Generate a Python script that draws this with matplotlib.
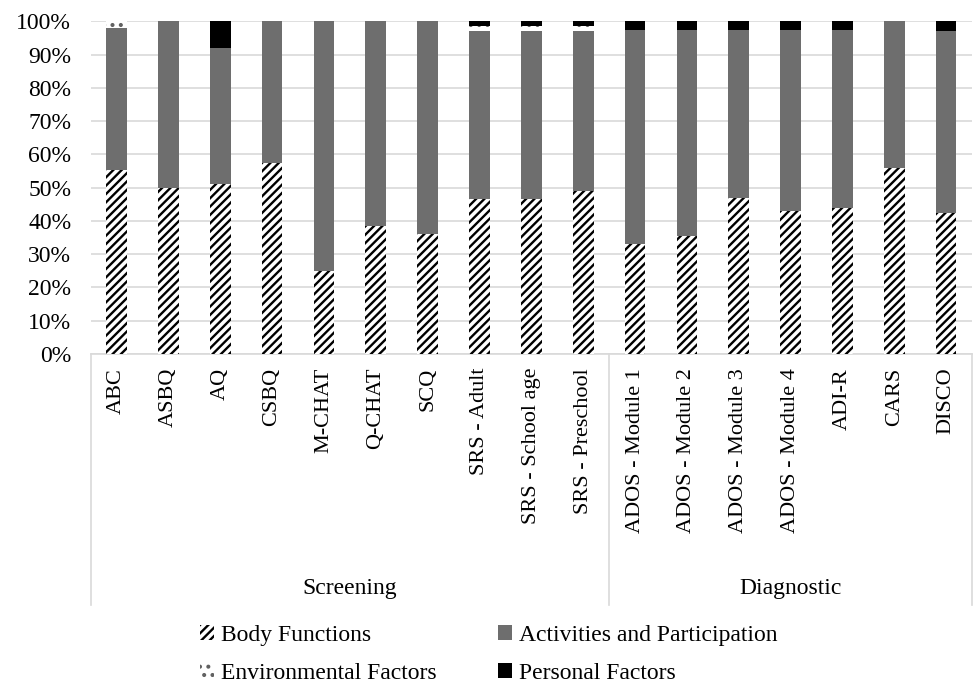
import matplotlib
matplotlib.use('Agg')
import matplotlib.pyplot as plt
import matplotlib.transforms as mtransforms
from matplotlib.patches import Patch
import numpy as np

plt.rcParams['font.family'] = ['Liberation Serif', 'DejaVu Serif']
plt.rcParams['hatch.linewidth'] = 1.7

# data (percent)
tools = ['ABC', 'ASBQ', 'AQ', 'CSBQ', 'M-CHAT', 'Q-CHAT', 'SCQ',
         'SRS - Adult', 'SRS - School age', 'SRS - Preschool',
         'ADOS - Module 1', 'ADOS - Module 2', 'ADOS - Module 3', 'ADOS - Module 4',
         'ADI-R', 'CARS', 'DISCO']
groups = ['Screening', 'Diagnostic']
group_sizes = [10, 7]
body = [55.3, 50.0, 51.0, 57.5, 25.0, 38.5, 36.0, 46.5, 46.5, 49.0,
        33.0, 35.5, 47.0, 43.0, 44.0, 56.0, 42.5]
activities = [42.7, 50.0, 41.0, 42.5, 75.0, 61.5, 64.0, 50.5, 50.5, 48.0,
              64.3, 61.8, 50.3, 54.4, 53.5, 44.0, 54.7]
environmental = [2.0, 0, 0, 0, 0, 0, 0, 1.5, 1.5, 1.5,
                 0, 0, 0, 0, 0, 0, 0]
personal = [0, 0, 8.0, 0, 0, 0, 0, 1.5, 1.5, 1.5,
            2.7, 2.7, 2.7, 2.6, 2.5, 0, 2.8]

FS = 17      # horizontal text
FS_ROT = 16  # rotated category labels
grey = '#6e6e6e'
light = '#d9d9d9'

fig = plt.figure(figsize=(9.74, 6.86), dpi=100)
ax = fig.add_axes([0.093, 0.484, 0.905, 0.485])

x = np.arange(len(tools))
w = 0.4
b = np.array(body)
a = np.array(activities)
e = np.array(environmental)
p = np.array(personal)

ax.bar(x, b, w, color='white', edgecolor='black', hatch='////', linewidth=0, zorder=3)
ax.bar(x, a, w, bottom=b, color=grey, linewidth=0, zorder=3)
ax.bar(x, e, w, bottom=b + a, color='white', edgecolor='#606060', hatch='..', linewidth=0, zorder=3)
ax.bar(x, p, w, bottom=b + a + e, color='black', linewidth=0, zorder=3)

ax.set_xlim(-0.5, len(tools) - 0.5)
ax.set_ylim(0, 100)
ax.set_yticks(np.arange(0, 101, 10))
ax.set_yticklabels([f'{v}%' for v in range(0, 101, 10)], fontsize=FS)
ax.yaxis.grid(True, color=light, linewidth=1.2, zorder=0)
ax.tick_params(axis='y', length=0, pad=14)
ax.tick_params(axis='x', length=0, pad=10)
ax.set_xticks(x)
ax.set_xticklabels(tools, rotation=90, fontsize=FS_ROT, va='top')

for s in ['left', 'right', 'top']:
    ax.spines[s].set_visible(False)
ax.spines['bottom'].set_color(light)
ax.spines['bottom'].set_linewidth(1.2)

# group separators and labels
trans = mtransforms.blended_transform_factory(ax.transData, ax.transAxes)
edges = np.concatenate([[0], np.cumsum(group_sizes)]) - 0.5
for xe in edges:
    ax.plot([xe, xe], [0, -0.755], color=light, linewidth=1.2, transform=trans, clip_on=False)
for g, lo, hi in zip(groups, edges[:-1], edges[1:]):
    ax.text((lo + hi) / 2, -0.705, g, transform=trans, ha='center', va='center', fontsize=FS)

handles = [Patch(facecolor='white', edgecolor='black', hatch='////', linewidth=0, label='Body Functions'),
           Patch(facecolor='white', edgecolor='#606060', hatch='..', linewidth=0, label='Environmental Factors'),
           Patch(facecolor=grey, label='Activities and Participation'),
           Patch(facecolor='black', label='Personal Factors')]
fig.legend(handles=handles, ncol=2, loc='center', bbox_to_anchor=(0.502, 0.046),
           frameon=False, fontsize=FS, handlelength=0.6, handleheight=0.6,
           handletextpad=0.3, columnspacing=2.6, labelspacing=0.75)

plt.savefig('out.png', dpi=100)
